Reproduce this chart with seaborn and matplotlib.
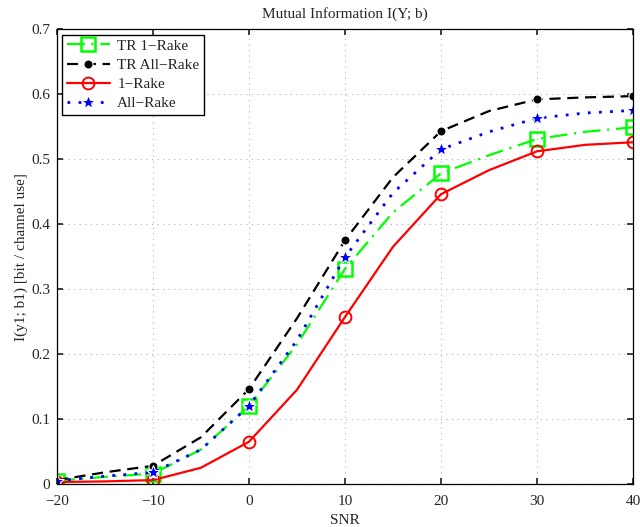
import matplotlib
matplotlib.use("Agg")
import matplotlib.pyplot as plt
import seaborn as sns

# values (markers every 10 dB, curve points at the 5 dB steps)
snr = [-20, -15, -10, -5, 0, 5, 10, 15, 20, 25, 30, 35, 40]

tr_1_rake = [0.005, 0.011, 0.016, 0.053, 0.120, 0.215, 0.331, 0.418, 0.478, 0.506, 0.531, 0.542, 0.549]
tr_all_rake = [0.006, 0.018, 0.028, 0.072, 0.146, 0.255, 0.375, 0.472, 0.543, 0.574, 0.592, 0.595, 0.597]
one_rake = [0.003, 0.004, 0.006, 0.025, 0.065, 0.145, 0.257, 0.365, 0.446, 0.483, 0.512, 0.522, 0.526]
all_rake = [0.005, 0.012, 0.018, 0.053, 0.120, 0.221, 0.349, 0.448, 0.515, 0.542, 0.563, 0.571, 0.575]

sns.set_theme(style="ticks")
plt.rcParams["font.family"] = ["Liberation Serif", "DejaVu Serif"]
plt.rcParams["font.size"] = 10.5

fig = plt.figure(figsize=(6.4, 5.27), dpi=100)
ax = fig.add_axes([0.089, 0.0816, 0.9, 0.863])

sns.lineplot(x=snr, y=tr_1_rake, ax=ax, color="#00ff00", linestyle=(0, (8, 3, 1, 3)),
             linewidth=1.6, marker="s", markersize=9.5, markerfacecolor="none",
             markeredgecolor="#00ff00", markeredgewidth=1.8, markevery=2, label="TR 1\u2212Rake")
sns.lineplot(x=snr, y=tr_all_rake, ax=ax, color="black", linestyle=(0, (5, 3)),
             linewidth=1.6, marker="o", markersize=6.5, markevery=2, label="TR All\u2212Rake")
sns.lineplot(x=snr, y=one_rake, ax=ax, color="red", linestyle="-",
             linewidth=1.6, marker="o", markersize=8.5, markerfacecolor="none",
             markeredgecolor="red", markeredgewidth=1.4, markevery=2, label="1\u2212Rake")
sns.lineplot(x=snr, y=all_rake, ax=ax, color="blue", linestyle=(0, (1, 3)),
             linewidth=2.0, marker="*", markersize=10.5, markevery=2, label="All\u2212Rake")

ax.set_xlim(-20, 40)
ax.set_ylim(0, 0.7)
ax.set_xticks([-20, -10, 0, 10, 20, 30, 40])
ax.set_yticks([0, 0.1, 0.2, 0.3, 0.4, 0.5, 0.6, 0.7])
ax.set_yticklabels(["0", "0.1", "0.2", "0.3", "0.4", "0.5", "0.6", "0.7"])
ax.tick_params(direction="in", length=4, top=True, right=True, labelsize=11)
ax.tick_params(axis="x", pad=8)
ax.tick_params(axis="y", pad=5)
ax.grid(True, linestyle=(0, (1, 4)), color="#b0b0b0", linewidth=0.8)
for sp in ax.spines.values():
    sp.set_visible(True)
    sp.set_linewidth(0.9)
    sp.set_color("black")

ax.set_xlabel("SNR", fontsize=11, labelpad=4)
ax.set_ylabel("I(y1; b1) [bit / channel use]", fontsize=11, labelpad=2)
ax.set_title("Mutual Information I(Y; b)", fontsize=11, pad=8)

leg = ax.legend(loc="upper left", fancybox=False, framealpha=1, edgecolor="black",
                fontsize=11, handlelength=2.8, borderpad=0.3, labelspacing=0.35,
                borderaxespad=0.35, handletextpad=0.5)
leg.get_frame().set_linewidth(1.0)

fig.savefig("out.png", dpi=100)
